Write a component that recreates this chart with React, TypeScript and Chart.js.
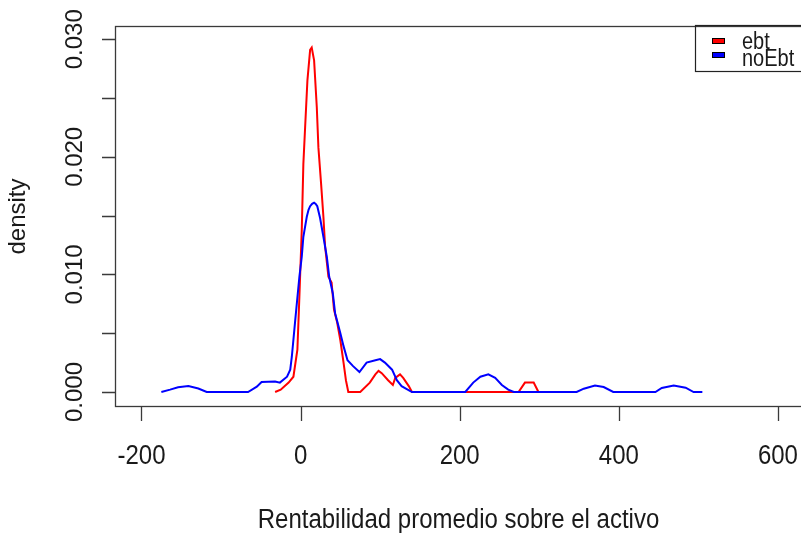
import React, { useEffect, useRef } from "react";
import { Chart, registerables } from "chart.js";

Chart.register(...registerables);

// ebt density (red)
const ebtX = [-32, -25, -15, -9, -4, -1.5, 1.5, 3.5, 5.7, 8.6, 12, 14, 17, 20.4, 22.4, 25.8, 28.7, 30.8, 35, 39, 42, 46, 50, 54, 57, 60, 75, 87, 94, 98, 102, 110, 116, 119, 125, 129, 136, 140, 274, 282, 293, 299];
const ebtY = [0, 0.0002, 0.0008, 0.0013, 0.0036, 0.0081, 0.0138, 0.0194, 0.0225, 0.0265, 0.0291, 0.0293, 0.0282, 0.0242, 0.0208, 0.0177, 0.0149, 0.0124, 0.0098, 0.0093, 0.007, 0.0059, 0.0044, 0.0025, 0.001, 0, 0, 0.0008, 0.0015, 0.0018, 0.0016, 0.001, 0.0006, 0.0012, 0.0015, 0.0012, 0.0005, 0, 0, 0.0008, 0.0008, 0];

// noEbt density (blue)
const noEbtX = [-175, -164, -154, -141, -128.5, -118, -66, -55, -49, -32, -26, -17, -13, -11, -7, -1.5, 1.5, 3.5, 7.8, 10, 12, 14.5, 17, 19, 21, 24.5, 28.7, 33, 36, 40.5, 43.4, 50, 54, 59, 66, 74, 83, 94, 100, 106, 115, 121, 127, 133.5, 140, 207, 217, 226, 236, 244.6, 253, 261, 268, 347, 356, 370, 381, 393, 446, 454, 469, 484, 494, 505];
const noEbtY = [0, 0.0002, 0.0004, 0.0005, 0.0003, 0, 0, 0.00045, 0.00085, 0.0009, 0.0008, 0.0013, 0.0019, 0.003, 0.0059, 0.0098, 0.0115, 0.0132, 0.0149, 0.0155, 0.0158, 0.016, 0.0161, 0.016, 0.0158, 0.0148, 0.0132, 0.0115, 0.0098, 0.0084, 0.0067, 0.005, 0.0039, 0.0027, 0.0022, 0.0017, 0.0025, 0.0027, 0.0028, 0.0025, 0.0019, 0.001, 0.0005, 0.00025, 0, 0, 0.0008, 0.0013, 0.0015, 0.0012, 0.0006, 0.0002, 0, 0, 0.00028, 0.00056, 0.00042, 0, 0, 0.00034, 0.00056, 0.00037, 0, 0];

const xTicks = [-200, 0, 200, 400, 600];
const yTicks = [0, 0.005, 0.01, 0.015, 0.02, 0.025, 0.03];
const yTickLabels = ["0.000", "", "0.010", "", "0.020", "", "0.030"];
const seriesNames = ["ebt", "noEbt"];
const seriesColors = ["#ff0000", "#0000ff"];
const xTitle = "Rentabilidad promedio sobre el activo";
const yTitle = "density";

const FONT = '"Liberation Sans", Arial, sans-serif';
const TEXT = "#1a1a1a";
const AXIS = "#3a3a3a";

function txt(ctx: CanvasRenderingContext2D, s: string, x: number, y: number, size: number, rot: number, align: CanvasTextAlign, sy = 1) {
  ctx.save();
  ctx.translate(x, y);
  ctx.rotate(rot);
  ctx.scale(1, sy);
  ctx.font = `${size}px ${FONT}`;
  ctx.fillStyle = TEXT;
  ctx.textAlign = align;
  ctx.textBaseline = "alphabetic";
  ctx.fillText(s, 0, 0);
  ctx.restore();
}

const rFrame = {
  id: "rFrame",
  afterDraw(chart: any) {
    const ctx: CanvasRenderingContext2D = chart.ctx;
    const a = chart.chartArea;
    const xs = chart.scales.x;
    const ys = chart.scales.y;
    ctx.save();
    ctx.strokeStyle = AXIS;
    ctx.lineWidth = 1.3;
    ctx.strokeRect(a.left - 0.5, a.top - 0.5, a.right - a.left + 4, a.bottom - a.top + 1);
    ctx.beginPath();
    for (const t of xTicks) {
      const px = Math.round(xs.getPixelForValue(t)) + 0.5;
      ctx.moveTo(px, a.bottom);
      ctx.lineTo(px, a.bottom + 15);
    }
    for (const t of yTicks) {
      const py = Math.round(ys.getPixelForValue(t)) + 0.5;
      ctx.moveTo(a.left, py);
      ctx.lineTo(a.left - 14, py);
    }
    ctx.stroke();
    ctx.restore();
    for (const t of xTicks) {
      txt(ctx, String(t), xs.getPixelForValue(t), 464, 24, 0, "center", 1.15);
    }
    yTicks.forEach((t, i) => {
      if (yTickLabels[i]) txt(ctx, yTickLabels[i], 82, ys.getPixelForValue(t), 24, -Math.PI / 2, "center");
    });
    txt(ctx, xTitle, (a.left + 801) / 2, 528, 24, 0, "center", 1.15);
    txt(ctx, yTitle, 25, (a.top + a.bottom) / 2, 24, -Math.PI / 2, "center");
    // legend
    ctx.save();
    ctx.strokeStyle = "#222";
    ctx.lineWidth = 1.2;
    ctx.strokeRect(695.5, 25.5, 120, 46);
    seriesNames.forEach((n, i) => {
      const y = 38 + i * 14;
      ctx.fillStyle = seriesColors[i];
      ctx.fillRect(712, y, 13, 6);
      ctx.strokeStyle = "#000";
      ctx.lineWidth = 1;
      ctx.strokeRect(712.5, y + 0.5, 12, 5);
      txt(ctx, n, 742, 49 + i * 17, 20, 0, "left", 1.15);
    });
    ctx.restore();
  },
};

export default function App() {
  const ref = useRef<HTMLCanvasElement | null>(null);
  useEffect(() => {
    document.body.style.margin = "0";
    const canvas = ref.current!;
    const chart = new Chart(canvas, {
      type: "line",
      data: {
        datasets: [
          {
            label: seriesNames[0],
            data: ebtX.map((x, i) => ({ x, y: ebtY[i] })),
            borderColor: seriesColors[0],
            borderWidth: 2,
            pointRadius: 0,
            tension: 0,
            fill: false,
            order: 2,
          },
          {
            label: seriesNames[1],
            data: noEbtX.map((x, i) => ({ x, y: noEbtY[i] })),
            borderColor: seriesColors[1],
            borderWidth: 2,
            pointRadius: 0,
            tension: 0,
            fill: false,
            order: 1,
          },
        ],
      },
      options: {
        responsive: false,
        animation: false,
        layout: { padding: { left: 116, top: 27, right: 0, bottom: 127 } },
        plugins: { legend: { display: false }, tooltip: { enabled: false } },
        scales: {
          x: { type: "linear", min: -232, max: 629, display: false },
          y: { type: "linear", min: -0.00119, max: 0.03104, display: false },
        },
      },
      plugins: [rFrame],
    });
    return () => chart.destroy();
  }, []);
  return (
    <div style={{ width: 801, height: 533, background: "#fff" }}>
      <canvas ref={ref} width={801} height={533} />
    </div>
  );
}
